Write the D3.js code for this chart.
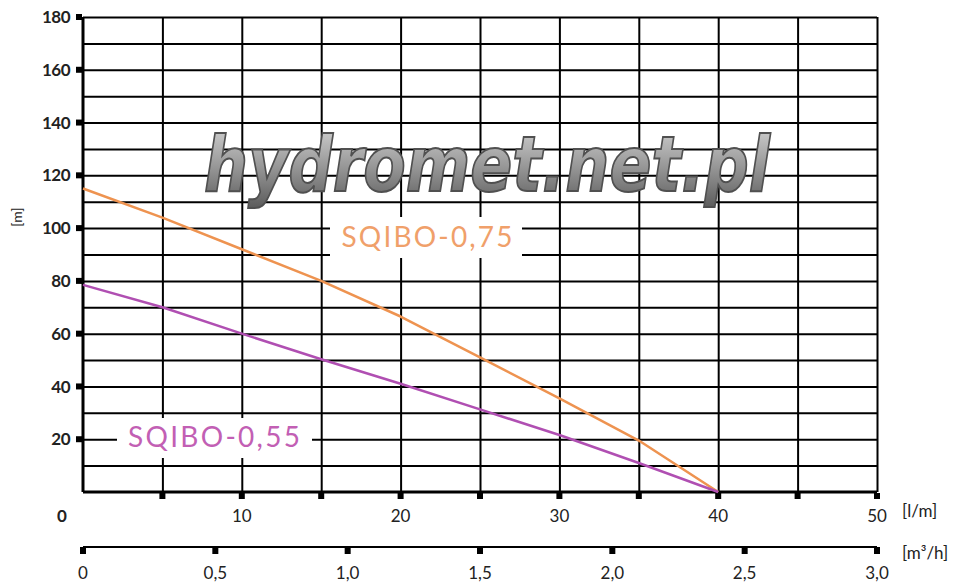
<!DOCTYPE html>
<html>
<head>
<meta charset="utf-8">
<script src="https://cdn.jsdelivr.net/npm/d3@7"></script>
<style>
  body { margin: 0; background: #fff; }
  svg { display: block; }
</style>
</head>
<body>
<div id="chart"></div>
<script>
// dane
const flowLpm = [0, 5, 10, 15, 20, 25, 30, 35, 40];
const head075 = [115, 104, 92, 80, 66.5, 51, 35.5, 19.5, 0];
const head055 = [78.5, 70, 60, 50.3, 41, 31.3, 21.6, 11, 0];
const yTicks = [20, 40, 60, 80, 100, 120, 140, 160, 180];
const xTicks = [10, 20, 30, 40, 50];
const m3hTicks = [0, 0.5, 1.0, 1.5, 2.0, 2.5, 3.0];

const W = 959, H = 587;
const plotL = 83, plotR = 877, plotT = 17, plotB = 492;

const svg = d3.select('#chart').append('svg')
    .attr('width', W).attr('height', H);

const x = d3.scaleLinear().domain([0, 50]).range([plotL, plotR]);
const y = d3.scaleLinear().domain([0, 180]).range([plotB, plotT]);
const xm = d3.scaleLinear().domain([0, 3]).range([plotL, plotR]);

const font = 'Lato, "Noto Sans", sans-serif';

// siatka pozioma
svg.append('g')
    .attr('transform', `translate(${plotL},0)`)
    .call(d3.axisLeft(y).tickValues(d3.range(10, 181, 10)).tickSize(-(plotR - plotL)).tickFormat(''))
    .call(g => g.select('.domain').remove())
    .selectAll('line').attr('stroke', '#000').attr('stroke-width', 2);

// siatka pionowa
svg.append('g')
    .attr('transform', `translate(0,${plotB})`)
    .call(d3.axisBottom(x).tickValues(d3.range(5, 51, 5)).tickSize(-(plotB - plotT)).tickFormat(''))
    .call(g => g.select('.domain').remove())
    .selectAll('line').attr('stroke', '#000').attr('stroke-width', 2);

// osie
svg.append('line').attr('x1', plotL).attr('x2', plotL).attr('y1', plotT).attr('y2', plotB)
    .attr('stroke', '#000').attr('stroke-width', 3);
svg.append('line').attr('x1', plotL).attr('x2', plotR).attr('y1', plotB).attr('y2', plotB)
    .attr('stroke', '#000').attr('stroke-width', 3);

// znaczniki osi Y
svg.selectAll('.ytick').data(yTicks).enter().append('rect')
    .attr('x', plotL - 7).attr('y', d => y(d) - 3).attr('width', 6).attr('height', 6)
    .attr('fill', '#000');
svg.selectAll('.ylab').data(yTicks).enter().append('text')
    .attr('x', 70).attr('y', d => y(d)).attr('dy', '0.36em')
    .attr('text-anchor', 'end')
    .style('font-family', font).style('font-size', '17px').style('font-weight', 'bold')
    .style('letter-spacing', '-0.5px').attr('fill', '#222')
    .text(d => d);

// znaczniki osi X (l/m)
svg.selectAll('.xtick').data(d3.range(5, 51, 5)).enter().append('rect')
    .attr('x', d => x(d) - 3).attr('y', plotB + 1).attr('width', 6).attr('height', 6)
    .attr('fill', '#000');
svg.selectAll('.xlab').data(xTicks).enter().append('text')
    .attr('x', d => x(d)).attr('y', 522)
    .attr('text-anchor', 'middle')
    .style('font-family', font).style('font-size', '17px').attr('fill', '#222')
    .text(d => d);
svg.append('text').attr('x', 62).attr('y', 522).attr('text-anchor', 'middle')
    .style('font-family', font).style('font-size', '17px').style('font-weight', 'bold').attr('fill', '#222')
    .text('0');
svg.append('text').attr('x', 902).attr('y', 517)
    .style('font-family', font).style('font-size', '17px').attr('fill', '#222')
    .text('[l/m]');

// druga oś (m3/h)
const mAxisY = 547;
svg.append('line').attr('x1', plotL).attr('x2', plotR).attr('y1', mAxisY).attr('y2', mAxisY)
    .attr('stroke', '#000').attr('stroke-width', 2);
svg.selectAll('.mtick').data(m3hTicks).enter().append('rect')
    .attr('x', d => xm(d) - 3).attr('y', mAxisY).attr('width', 6).attr('height', 7)
    .attr('fill', '#000');
svg.selectAll('.mlab').data(m3hTicks).enter().append('text')
    .attr('x', d => xm(d)).attr('y', 579)
    .attr('text-anchor', 'middle')
    .style('font-family', font).style('font-size', '17px').attr('fill', '#222')
    .text(d => d === 0 ? '0' : d.toFixed(1).replace('.', ','));
svg.append('text').attr('x', 902).attr('y', 559)
    .style('font-family', font).style('font-size', '17px').attr('fill', '#222')
    .text('[m³/h]');

// etykieta osi Y
svg.append('text')
    .attr('transform', 'translate(22,217) rotate(-90)')
    .attr('text-anchor', 'middle')
    .style('font-family', font).style('font-size', '14px').attr('fill', '#222')
    .text('[m]');

// znak wodny
const grad = svg.append('defs').append('linearGradient')
    .attr('id', 'wm').attr('x1', 0).attr('x2', 0).attr('y1', 0).attr('y2', 1);
grad.append('stop').attr('offset', '0%').attr('stop-color', '#d8d8d8');
grad.append('stop').attr('offset', '50%').attr('stop-color', '#9a9a9a');
grad.append('stop').attr('offset', '100%').attr('stop-color', '#5a5a5a');
svg.append('text')
    .attr('x', 204).attr('y', 191)
    .attr('textLength', 566).attr('lengthAdjust', 'spacingAndGlyphs')
    .style('font-family', '"DejaVu Sans", sans-serif').style('font-size', '76px')
    .style('font-weight', 'bold').style('font-style', 'italic')
    .attr('fill', 'url(#wm)').attr('stroke', '#505050').attr('stroke-width', 2)
    .text('hydromet.net.pl');

// krzywe
const line = d3.line().x(d => x(d[0])).y(d => y(d[1]));
svg.append('path').datum(d3.zip(flowLpm, head075))
    .attr('fill', 'none').attr('stroke', '#ee9350').attr('stroke-width', 2.5)
    .attr('stroke-linejoin', 'round')
    .attr('d', line);
svg.append('path').datum(d3.zip(flowLpm, head055))
    .attr('fill', 'none').attr('stroke', '#b04fb2').attr('stroke-width', 2.5)
    .attr('stroke-linejoin', 'round')
    .attr('d', line);

// etykiety serii
svg.append('rect').attr('x', 330).attr('y', 217).attr('width', 192).attr('height', 41).attr('fill', '#fff');
svg.append('text').attr('x', 427).attr('y', 247).attr('text-anchor', 'middle')
    .style('font-family', font).style('font-size', '28px').attr('fill', '#f0a06a')
    .attr('textLength', 171)
    .text('SQIBO-0,75');
svg.append('rect').attr('x', 117).attr('y', 418).attr('width', 195).attr('height', 40).attr('fill', '#fff');
svg.append('text').attr('x', 214).attr('y', 447).attr('text-anchor', 'middle')
    .style('font-family', font).style('font-size', '28px').attr('fill', '#c25fb4')
    .attr('textLength', 172)
    .text('SQIBO-0,55');
</script>
</body>
</html>
